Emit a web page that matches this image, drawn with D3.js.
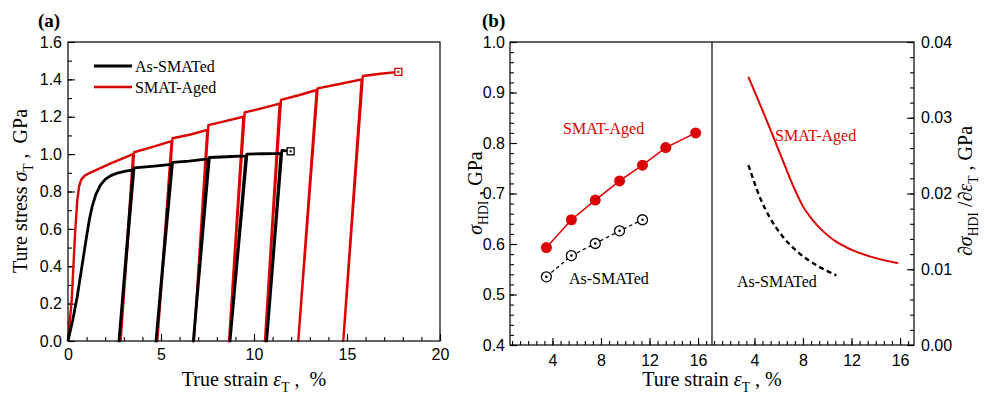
<!DOCTYPE html>
<html>
<head>
<meta charset="utf-8">
<script src="https://cdn.jsdelivr.net/npm/d3@7"></script>
<style>
body { margin: 0; background: #fff; }
svg { display: block; font-family: "Liberation Serif", "Times New Roman", serif; }
.tick text { font-size: 16px; fill: #000; }
.tick line { stroke: #000; stroke-width: 1.1; }
</style>
</head>
<body>
<svg id="chart"></svg>
<script>

// (a) cyclic loading curves, [strain %, stress GPa]
var asSmatedCurve = [
  [0, 0], [0.25, 0.11], [0.5, 0.24], [0.75, 0.40], [1.0, 0.56], [1.15, 0.65],
  [1.3, 0.72], [1.5, 0.785], [1.75, 0.835], [2.0, 0.865], [2.3, 0.885], [2.7, 0.900],
  [3.1, 0.909], [3.5, 0.915],
  [2.74, 0], [3.55, 0.926], [4.5, 0.935], [5.57, 0.945],
  [4.73, 0], [5.62, 0.956], [6.5, 0.963], [7.55, 0.975],
  [6.74, 0], [7.6, 0.982], [8.5, 0.986], [9.57, 0.991],
  [8.71, 0], [9.62, 1.0], [10.5, 1.002], [11.45, 1.004],
  [10.68, 0], [11.5, 1.02], [11.97, 1.015]
];
var smatAgedCurve = [
  [0, 0], [0.2, 0.22], [0.38, 0.576], [0.5, 0.754], [0.6, 0.83], [0.72, 0.865],
  [0.9, 0.885], [1.18, 0.90], [2.3, 0.95], [3.5, 1.0],
  [2.83, 0], [3.55, 1.01], [4.6, 1.04], [5.57, 1.07],
  [4.8, 0], [5.62, 1.085], [6.6, 1.105], [7.49, 1.13],
  [6.77, 0], [7.55, 1.155], [8.4, 1.175], [9.43, 1.20],
  [8.66, 0], [9.5, 1.223], [10.4, 1.245], [11.38, 1.27],
  [10.59, 0], [11.45, 1.29], [12.4, 1.315], [13.37, 1.343],
  [12.38, 0], [13.42, 1.352], [14.6, 1.375], [15.79, 1.40],
  [14.8, 0], [15.85, 1.418], [16.8, 1.43], [17.76, 1.44]
];

// (b) left: HDI stress at each unloading strain
var hdiStrain = [3.5, 5.56, 7.53, 9.53, 11.42, 13.34, 15.8];
var hdiAged = [0.593, 0.648, 0.687, 0.725, 0.756, 0.791, 0.820];
var hdiAs = [0.535, 0.577, 0.601, 0.626, 0.648];

// (b) right: HDI hardening rate
var rateAged = [
  [3.5, 0.0354], [4.5, 0.0316], [5.5, 0.0277], [6.5, 0.0237], [7.3, 0.0206],
  [8.0, 0.0183], [8.8, 0.0165], [9.6, 0.0151], [10.5, 0.0139], [11.58, 0.0129],
  [13.5, 0.0117], [15.85, 0.0108]
];
var rateAs = [
  [3.5, 0.02376], [4.55, 0.0191], [5.24, 0.0169], [6.34, 0.0143],
  [7.7, 0.0121], [9.37, 0.0103], [10.75, 0.0092]
];

var xTicksA = [0, 5, 10, 15, 20];
var yTicksA = [0, 0.2, 0.4, 0.6, 0.8, 1.0, 1.2, 1.4, 1.6];
var xTicksB = [4, 8, 12, 16];
var yTicksB = [0.4, 0.5, 0.6, 0.7, 0.8, 0.9, 1.0];
var yTicksB2 = [0, 0.01, 0.02, 0.03, 0.04];

var RED = "#dc0000";
var width = 985, height = 398;
var SP = "\u00a0";

var svg = d3.select("#chart").attr("width", width).attr("height", height);

// rich text: parts like {t:"ε", i:true} or {t:"T", sub:true}
function richText(g, parts, size) {
  var text = g.append("text").attr("font-size", size).attr("fill", "#000");
  var shifted = false;
  parts.forEach(function (p) {
    var ts = text.append("tspan").text(p.t);
    if (p.i) ts.attr("font-style", "italic");
    if (p.sub && !shifted) { ts.attr("dy", size * 0.3).attr("font-size", size * 0.68); shifted = true; }
    else if (p.sub) { ts.attr("font-size", size * 0.68); }
    else if (shifted) { ts.attr("dy", -size * 0.3); shifted = false; }
  });
  return text;
}

function styleAxis(g) {
  g.select(".domain").remove();
}

// ---------- panel (a) ----------
var ax = d3.scaleLinear().domain([0, 20]).range([68, 440]);
var ay = d3.scaleLinear().domain([0, 1.6]).range([341, 42]);

var pa = svg.append("g");

pa.append("g").attr("transform", "translate(0,341)")
  .call(d3.axisBottom(ax).tickValues(d3.range(0, 21, 1)).tickSize(-4).tickFormat(""))
  .call(styleAxis);
pa.append("g").attr("transform", "translate(0,341)")
  .call(d3.axisBottom(ax).tickValues(xTicksA).tickSize(-7).tickPadding(8).tickFormat(d3.format("d")))
  .call(styleAxis);
pa.append("g").attr("transform", "translate(68,0)")
  .call(d3.axisLeft(ay).tickValues(d3.range(0, 1.65, 0.1)).tickSize(-4).tickFormat(""))
  .call(styleAxis);
pa.append("g").attr("transform", "translate(68,0)")
  .call(d3.axisLeft(ay).tickValues(yTicksA).tickSize(-7).tickPadding(6).tickFormat(d3.format(".1f")))
  .call(styleAxis);

var lineA = d3.line().x(function (d) { return ax(d[0]); }).y(function (d) { return ay(d[1]); });

pa.append("path").datum(smatAgedCurve).attr("d", lineA)
  .attr("fill", "none").attr("stroke", RED).attr("stroke-width", 2.4).attr("stroke-linejoin", "round");
pa.append("path").datum(asSmatedCurve).attr("d", lineA)
  .attr("fill", "none").attr("stroke", "#000").attr("stroke-width", 2.8).attr("stroke-linejoin", "round");

// end markers
[[asSmatedCurve[asSmatedCurve.length - 1], "#000"], [smatAgedCurve[smatAgedCurve.length - 1], RED]].forEach(function (m) {
  var cx = ax(m[0][0]), cy = ay(m[0][1]);
  pa.append("rect").attr("x", cx - 3.5).attr("y", cy - 3.5).attr("width", 7).attr("height", 7)
    .attr("fill", "#fff").attr("stroke", m[1]).attr("stroke-width", 1.3);
  pa.append("rect").attr("x", cx - 1).attr("y", cy - 1).attr("width", 2).attr("height", 2).attr("fill", m[1]);
});

pa.append("rect").attr("x", 68).attr("y", 42).attr("width", 372).attr("height", 299)
  .attr("fill", "none").attr("stroke", "#000").attr("stroke-width", 1.2);

// legend
pa.append("line").attr("x1", 94).attr("x2", 132).attr("y1", 66).attr("y2", 66).attr("stroke", "#000").attr("stroke-width", 2.8);
pa.append("text").attr("x", 135).attr("y", 72).attr("font-size", 16).text("As-SMATed");
pa.append("line").attr("x1", 94).attr("x2", 132).attr("y1", 87).attr("y2", 87).attr("stroke", RED).attr("stroke-width", 2.4);
pa.append("text").attr("x", 135).attr("y", 93).attr("font-size", 16).text("SMAT-Aged");

richText(pa, [{ t: "True strain " }, { t: "ε", i: true }, { t: "T", sub: true }, { t: " ," + SP + SP + "%" }], 20)
  .attr("x", 254).attr("y", 386).attr("text-anchor", "middle");
richText(pa, [{ t: "Ture stress " }, { t: "σ", i: true }, { t: "T", sub: true }, { t: " ," + SP + SP + "GPa" }], 20)
  .attr("text-anchor", "middle").attr("transform", "translate(27,191) rotate(-90)");

pa.append("text").attr("x", 38).attr("y", 27).attr("font-size", 19).attr("font-weight", "bold").text("(a)");

// ---------- panel (b) ----------
var bxL = d3.scaleLinear().domain([0.5, 17.15]).range([510, 712]);
var bxR = d3.scaleLinear().domain([0.5, 17.15]).range([712, 914]);
var by = d3.scaleLinear().domain([0.4, 1.0]).range([345, 42]);
var by2 = d3.scaleLinear().domain([0, 0.04]).range([345, 42]);

var pb = svg.append("g");
var minorB = d3.range(0, 17.2, 2 / 3).filter(function (v) { return v > 0.6 && v < 17.1; });

[bxL, bxR].forEach(function (sx) {
  pb.append("g").attr("transform", "translate(0,345)")
    .call(d3.axisBottom(sx).tickValues(minorB).tickSize(-4).tickFormat(""))
    .call(styleAxis);
  pb.append("g").attr("transform", "translate(0,345)")
    .call(d3.axisBottom(sx).tickValues(xTicksB).tickSize(-7).tickPadding(10).tickFormat(d3.format("d")))
    .call(styleAxis);
});
pb.append("g").attr("transform", "translate(510,0)")
  .call(d3.axisLeft(by).tickValues(d3.range(0.4, 1.001, 0.02)).tickSize(-4).tickFormat(""))
  .call(styleAxis);
pb.append("g").attr("transform", "translate(510,0)")
  .call(d3.axisLeft(by).tickValues(yTicksB).tickSize(-7).tickPadding(5).tickFormat(d3.format(".1f")))
  .call(styleAxis);
pb.append("g").attr("transform", "translate(914,0)")
  .call(d3.axisRight(by2).tickValues(d3.range(0, 0.0401, 0.002)).tickSize(-4).tickFormat(""))
  .call(styleAxis);
pb.append("g").attr("transform", "translate(914,0)")
  .call(d3.axisRight(by2).tickValues(yTicksB2).tickSize(-7).tickPadding(7).tickFormat(d3.format(".2f")))
  .call(styleAxis);

pb.append("rect").attr("x", 510).attr("y", 42).attr("width", 404).attr("height", 303)
  .attr("fill", "none").attr("stroke", "#000").attr("stroke-width", 1.2);
pb.append("line").attr("x1", 712).attr("x2", 712).attr("y1", 42).attr("y2", 345)
  .attr("stroke", "#000").attr("stroke-width", 1.2);

// left half: HDI stress
var agedPts = hdiStrain.map(function (s, i) { return [s, hdiAged[i]]; });
var asPts = hdiAs.map(function (v, i) { return [hdiStrain[i], v]; });
var lineL = d3.line().x(function (d) { return bxL(d[0]); }).y(function (d) { return by(d[1]); });

pb.append("path").datum(asPts).attr("d", lineL).attr("fill", "none")
  .attr("stroke", "#000").attr("stroke-width", 1.3).attr("stroke-dasharray", "3.5,3");
pb.selectAll("circle.as").data(asPts).enter().append("circle").attr("class", "as")
  .attr("cx", function (d) { return bxL(d[0]); }).attr("cy", function (d) { return by(d[1]); })
  .attr("r", 5).attr("fill", "#fff").attr("stroke", "#000").attr("stroke-width", 1.3);
pb.selectAll("circle.asdot").data(asPts).enter().append("circle").attr("class", "asdot")
  .attr("cx", function (d) { return bxL(d[0]); }).attr("cy", function (d) { return by(d[1]); })
  .attr("r", 1.3).attr("fill", "#000");

pb.append("path").datum(agedPts).attr("d", lineL).attr("fill", "none")
  .attr("stroke", RED).attr("stroke-width", 1.5);
pb.selectAll("circle.aged").data(agedPts).enter().append("circle").attr("class", "aged")
  .attr("cx", function (d) { return bxL(d[0]); }).attr("cy", function (d) { return by(d[1]); })
  .attr("r", 5.5).attr("fill", RED);

pb.append("text").attr("x", 563).attr("y", 134).attr("font-size", 16).attr("fill", RED).text("SMAT-Aged");
pb.append("text").attr("x", 569).attr("y", 284).attr("font-size", 16).attr("fill", "#000").text("As-SMATed");

// right half: hardening rate
var lineR = d3.line().curve(d3.curveMonotoneX)
  .x(function (d) { return bxR(d[0]); }).y(function (d) { return by2(d[1]); });
pb.append("path").datum(rateAged).attr("d", lineR).attr("fill", "none")
  .attr("stroke", RED).attr("stroke-width", 2);
pb.append("path").datum(rateAs).attr("d", lineR).attr("fill", "none")
  .attr("stroke", "#000").attr("stroke-width", 2.4).attr("stroke-dasharray", "5,3.5");

pb.append("text").attr("x", 775).attr("y", 141).attr("font-size", 16).attr("fill", RED).text("SMAT-Aged");
pb.append("text").attr("x", 737).attr("y", 287).attr("font-size", 16).attr("fill", "#000").text("As-SMATed");

richText(pb, [{ t: "Ture strain " }, { t: "ε", i: true }, { t: "T", sub: true }, { t: " , %" }], 20)
  .attr("x", 712).attr("y", 386).attr("text-anchor", "middle");
richText(pb, [{ t: "σ", i: true }, { t: "HDI", sub: true }, { t: " ," + SP + "GPa" }], 20)
  .attr("text-anchor", "middle").attr("transform", "translate(482,193) rotate(-90)");
richText(pb, [{ t: "∂σ", i: true }, { t: "HDI", sub: true }, { t: " /∂" }, { t: "ε", i: true }, { t: "T", sub: true }, { t: " , GPa" }], 20)
  .attr("text-anchor", "middle").attr("transform", "translate(972,191) rotate(-90)");

pb.append("text").attr("x", 482).attr("y", 27).attr("font-size", 19).attr("font-weight", "bold").text("(b)");

</script>
</body>
</html>
